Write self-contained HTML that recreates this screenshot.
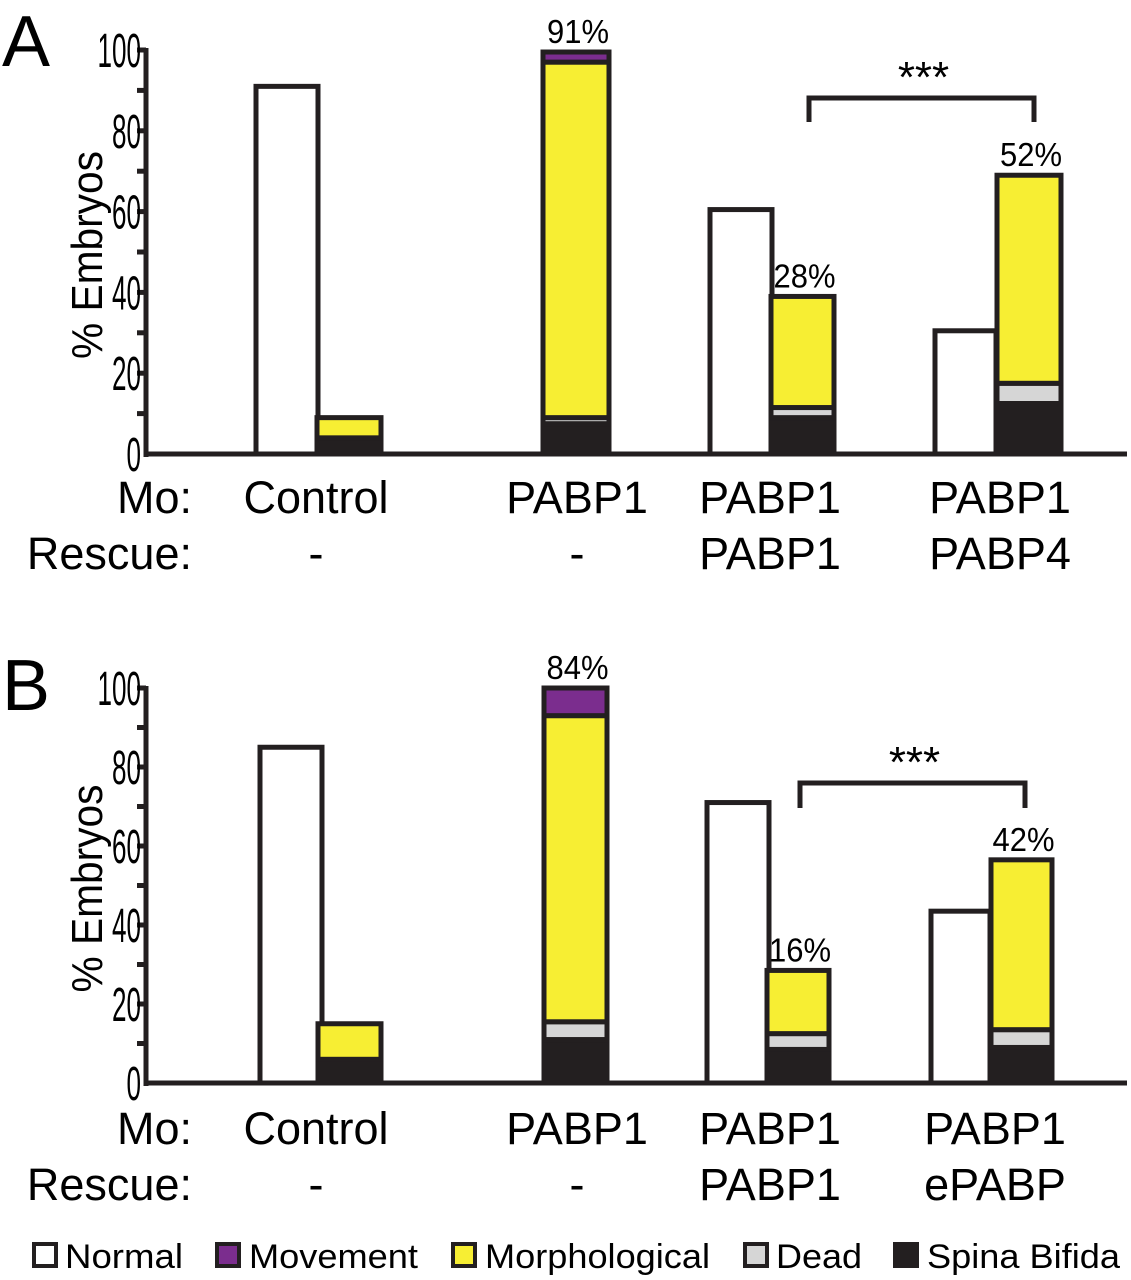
<!DOCTYPE html>
<html><head><meta charset="utf-8"><style>
html,body{margin:0;padding:0;background:#fff;}
svg{display:block;font-family:"Liberation Sans",sans-serif;}
</style></head><body>
<svg id="chart" width="1131" height="1280" viewBox="0 0 1131 1280" xmlns="http://www.w3.org/2000/svg">
<g id="root"></g>
</svg>
<script>
// Panel A data
const catsA = ["Control","PABP1","PABP1","PABP1"];
const rescueA = ["-","-","PABP1","PABP4"];
const normalA = [91, 0, 60.5, 30.5];
const spinaA = [4, 7.5, 9, 12.5];
const deadA = [0, 1.5, 2.5, 5];
const morphA = [5, 88, 27.5, 51.5];
const moveA = [0, 2.5, 0, 0];
const pctA = ["", "91%", "28%", "52%"];
// Panel B data
const catsB = ["Control","PABP1","PABP1","PABP1"];
const rescueB = ["-","-","PABP1","ePABP"];
const normalB = [85, 0, 71, 43.5];
const spinaB = [6, 11, 8.5, 9];
const deadB = [0, 4.5, 4, 4.5];
const morphB = [9, 77.5, 16, 43];
const moveB = [0, 7, 0, 0];
const pctB = ["", "84%", "16%", "42%"];
const ticks = [0,20,40,60,80,100];
const legendLabels = ["Normal","Movement","Morphological","Dead","Spina Bifida"];
const legendColors = ["#ffffff","#7b2d8e","#f7ee33","#d6d6d6","#231f20"];

const NS="http://www.w3.org/2000/svg";
const root=document.getElementById('root');
function mk(tag,attrs,parent){const e=document.createElementNS(NS,tag);for(const k in attrs)e.setAttribute(k,attrs[k]);(parent||root).appendChild(e);return e;}
function txt(s,attrs,parent){const e=mk('text',attrs,parent);e.textContent=s;return e;}

function panel(cfg){
  const g=mk('g',{});
  
  
  const y=v=>cfg.y0-(v/100)*(cfg.y0-cfg.y100);
  const ax=146;
  const L=txt(cfg.letter,{x:2,y:cfg.letterY,'font-size':72,fill:'#000'},g);
  
  
  const ya=mk('line',{x1:ax,y1:y(100)-2,x2:ax,y2:cfg.y0+3,stroke:'#231f20','stroke-width':5},g);
  
  
  const xa=mk('line',{x1:ax-2,y1:cfg.y0,x2:1127,y2:cfg.y0,stroke:'#231f20','stroke-width':5},g);
  
  
  for(let v=10;v<=100;v+=10){
    mk('line',{x1:ax-9,y1:y(v),x2:ax,y2:y(v),stroke:'#231f20','stroke-width':5},g);
  }
  ticks.forEach(t=>{
    const s=String(t);
    const e=txt(s,{x:ax-5,y:y(t)+17,'font-size':48,'text-anchor':'end',fill:'#000',textLength:s.length*14.5,lengthAdjust:'spacingAndGlyphs'},g);
    
    
  });
  const yc=(y(0)+y(100))/2;
  const yt=txt('% Embryos',{x:0,y:0,'font-size':44,'text-anchor':'middle',fill:'#000',textLength:208,lengthAdjust:'spacingAndGlyphs',transform:`translate(102,${yc+3}) rotate(-90)`},g);
  
  
  for(let i=0;i<4;i++){
    const [nx0,nx1]=cfg.nx[i],[sx0,sx1]=cfg.sx[i];
    if(cfg.normal[i]>0){
      const r=mk('rect',{x:nx0,y:y(cfg.normal[i]),width:nx1-nx0,height:y(0)-y(cfg.normal[i]),fill:'#fff',stroke:'#231f20','stroke-width':5},g);
      
      
    }
    const segs=[[cfg.spina[i],legendColors[4],'spina-bifida'],[cfg.dead[i],legendColors[3],'dead'],[cfg.morph[i],legendColors[2],'morphological'],[cfg.move[i],legendColors[1],'movement']];
    let acc=0;
    segs.forEach(([v,c,n])=>{
      if(v<=0)return;
      const r=mk('rect',{x:sx0,y:y(acc+v),width:sx1-sx0,height:y(acc)-y(acc+v),fill:c,stroke:'#231f20','stroke-width':5},g);
      
      
      acc+=v;
    });
    if(cfg.pct[i]){
      const p=txt(cfg.pct[i],{x:(sx0+sx1)/2+2,y:y(acc)-9,'font-size':33,'text-anchor':'middle',fill:'#000',textLength:62,lengthAdjust:'spacingAndGlyphs'},g);
      
      
    }
    const c=txt(cfg.cats[i],{x:cfg.cx[i],y:cfg.catY,'font-size':45,'text-anchor':'middle',fill:'#000'},g);
    
    
    const rr=txt(cfg.resc[i],{x:cfg.cx[i],y:cfg.catY+56,'font-size':45,'text-anchor':'middle',fill:'#000'},g);
    
    
  }
  const mo=txt('Mo:',{x:192,y:cfg.catY,'font-size':45,'text-anchor':'end',fill:'#000'},g);
  
  
  const re=txt('Rescue:',{x:192,y:cfg.catY+56,'font-size':45,'text-anchor':'end',fill:'#000'},g);
  
  
  const b=cfg.br;
  const br=mk('path',{d:`M${b[0]},${b[3]} V${b[2]} H${b[1]} V${b[3]}`,fill:'none',stroke:'#231f20','stroke-width':5},g);
  
  
  const st=txt('***',{x:(b[0]+b[1])/2+2,y:b[2]-6,'font-size':44,'text-anchor':'middle',fill:'#000'},g);
  
  
}

panel({name:'panel-a',letter:'A',letterY:66,y0:454,y100:50,
  normal:normalA,spina:spinaA,dead:deadA,morph:morphA,move:moveA,pct:pctA,cats:catsA,resc:rescueA,
  nx:[[256,318],[0,0],[710,772],[935,996]],sx:[[317,381],[543,609],[771,834],[997,1061]],
  cx:[316,577,770,1000],catY:513,br:[809,1034,98,122]});
panel({name:'panel-b',letter:'B',letterY:710,y0:1083,y100:688,
  normal:normalB,spina:spinaB,dead:deadB,morph:morphB,move:moveB,pct:pctB,cats:catsB,resc:rescueB,
  nx:[[260,322],[0,0],[707,769],[931,990]],sx:[[318,381],[544,607],[767,829],[991,1052]],
  cx:[316,577,770,995],catY:1144,br:[800,1025,783,808]});

const lg=mk('g',{});


const lbx=[32,215,451,743,893], ltx=[65,249,485,776,927], lw=[118,169,225,86,193];
legendLabels.forEach((s,i)=>{
  const e=mk('g',{},lg);
  
  
  mk('rect',{x:lbx[i]+2,y:1244,width:22,height:22,fill:legendColors[i],stroke:'#231f20','stroke-width':4},e);
  txt(s,{x:ltx[i],y:1268,'font-size':34,fill:'#000',textLength:lw[i],lengthAdjust:'spacingAndGlyphs'},e);
});
</script>
</body></html>
